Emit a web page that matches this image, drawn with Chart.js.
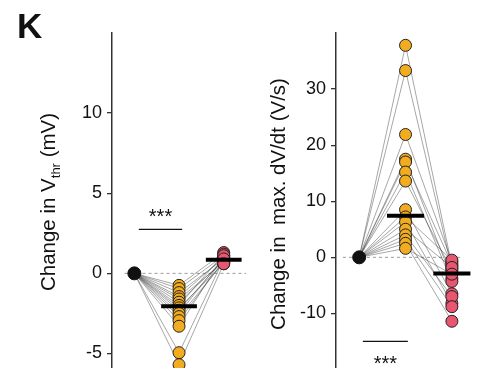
<!DOCTYPE html>
<html>
<head>
<meta charset="utf-8">
<script src="https://cdn.jsdelivr.net/npm/chart.js@4.4.1/dist/chart.umd.min.js"></script>
<style>
  html, body { margin: 0; padding: 0; background: #fff; }
  #wrap { position: relative; width: 477px; height: 368px; overflow: hidden; }
  canvas { position: absolute; top: 0; }
  #vthr { left: 0; }
  #dvdt { left: 240px; }
</style>
</head>
<body>
<div id="wrap">
  <canvas id="vthr" width="250" height="377"></canvas>
  <canvas id="dvdt" width="237" height="377"></canvas>
</div>
<script>
// x positions of the three conditions (baseline, drug, washout)
const conditions = [1, 2, 3];

// panel 1: change in V_thr (mV), one entry per cell
const vthrDrug = [-0.75, -0.95, -1.2, -1.45, -1.6, -1.8, -2.0, -2.15, -2.3, -2.5, -2.7, -2.95, -3.3, -4.95, -5.7];
const vthrWash = [1.3, 1.1, 0.9, 1.0, 0.7, 0.8, 1.2, 0.6, 0.9, 1.0, 0.7, 0.8, 1.1, 0.9, 0.6];
const vthrMeans = [-2.05, 0.85];
const vthrTicks = [-5, 0, 5, 10];

// panel 2: change in max dV/dt (V/s)
const dvdtDrug = [37.8, 33.3, 21.9, 17.5, 17.0, 15.2, 13.6, 8.5, 7.2, 6.3, 5.0, 4.0, 3.2, 2.5, 1.6];
const dvdtWash = [-1.5, -2.0, -0.8, -3.8, -1.2, -4.3, -2.4, -6.5, -0.5, -8.2, -1.8, -7.0, -8.8, -11.4, -3.0];
const dvdtMeans = [7.4, -2.9];
const dvdtTicks = [-10, 0, 10, 20, 30];

// significance bars: [x from, x to, y]
const vthrSigBar = [1.1, 2.07, 2.75];
const dvdtSigBar = [1.08, 2.05, -15];

const YELLOW = '#f1ac1f';
const RED = '#e8566f';
const FONT = "'Liberation Sans', Arial, Helvetica, sans-serif";

Chart.defaults.font.family = FONT;
Chart.defaults.color = '#111';

const annot = {
  id: 'annot',
  afterDraw(chart, args, o) {
    const { ctx, scales: { x, y } } = chart;
    ctx.save();
    ctx.fillStyle = '#111';

    // rotated y title, with optional subscript part
    ctx.translate(o.titleX, o.titleY);
    ctx.rotate(-Math.PI / 2);
    ctx.textBaseline = 'alphabetic';
    ctx.textAlign = 'left';
    const big = '20.5px ' + FONT;
    const small = '13px ' + FONT;
    let total = 0;
    for (const p of o.title) {
      ctx.font = p.sub ? small : big;
      total += ctx.measureText(p.text).width;
    }
    let u = -total / 2;
    for (const p of o.title) {
      ctx.font = p.sub ? small : big;
      ctx.fillText(p.text, u, p.sub ? 5 : 0);
      u += ctx.measureText(p.text).width;
    }
    ctx.setTransform(1, 0, 0, 1, 0, 0);

    // significance stars
    const [x0, x1, yv] = o.sig;
    ctx.font = '20px ' + FONT;
    ctx.textAlign = 'center';
    ctx.fillText('***', (x.getPixelForValue(x0) + x.getPixelForValue(x1)) / 2,
      y.getPixelForValue(yv) + o.starOffset);

    if (o.letter) {
      ctx.font = 'bold 35px ' + FONT;
      ctx.textAlign = 'left';
      ctx.fillText(o.letter, 17, 38);
    }
    ctx.restore();
  }
};

function makePanel(id, drug, wash, means, ticks, sig, yMin, yMax, xMax, axisWidth, annotOpts) {
  const datasets = [];

  // dashed zero reference
  datasets.push({
    data: [{ x: annotOpts.zeroFrom, y: 0 }, { x: annotOpts.zeroTo, y: 0 }],
    showLine: true, borderColor: '#9a9a9a', borderWidth: 1, borderDash: [3, 3],
    pointRadius: 0, order: 20
  });

  // one thin line per cell
  drug.forEach((d, i) => {
    datasets.push({
      data: [{ x: conditions[0], y: 0 }, { x: conditions[1], y: d }, { x: conditions[2], y: wash[i] }],
      showLine: true, borderColor: 'rgba(60,60,60,0.5)', borderWidth: 0.9,
      pointRadius: 0, order: 10
    });
  });

  datasets.push({
    data: [{ x: conditions[0], y: 0 }],
    pointRadius: 6.5, backgroundColor: '#111', borderColor: '#111', order: 3
  });
  datasets.push({
    data: drug.map(v => ({ x: conditions[1], y: v })),
    pointRadius: 6, backgroundColor: YELLOW, borderColor: '#222', borderWidth: 1, order: 2
  });
  datasets.push({
    data: wash.map(v => ({ x: conditions[2], y: v })),
    pointRadius: 6, backgroundColor: RED, borderColor: '#222', borderWidth: 1, order: 2
  });

  // mean bars
  means.forEach((m, i) => {
    const c = conditions[i + 1];
    datasets.push({
      data: [{ x: c - 0.4, y: m }, { x: c + 0.4, y: m }],
      showLine: true, borderColor: '#000', borderWidth: 4, borderCapStyle: 'butt',
      pointRadius: 0, order: 0
    });
  });

  // significance bar
  datasets.push({
    data: [{ x: sig[0], y: sig[2] }, { x: sig[1], y: sig[2] }],
    showLine: true, borderColor: '#111', borderWidth: 1.3, pointRadius: 0, order: 0
  });

  return new Chart(document.getElementById(id), {
    type: 'scatter',
    data: { datasets },
    options: {
      responsive: false,
      animation: false,
      clip: false,
      layout: { padding: { top: 33, right: 0, bottom: 0, left: 0 } },
      plugins: {
        legend: { display: false },
        tooltip: { enabled: false },
        annot: annotOpts
      },
      scales: {
        x: { type: 'linear', min: 0.5, max: xMax, display: false },
        y: {
          min: yMin, max: yMax,
          afterBuildTicks: (s) => { s.ticks = ticks.map(v => ({ value: v })); },
          afterFit: (s) => { s.width = axisWidth; s.paddingTop = 0; s.paddingBottom = 0; },
          grid: { drawOnChartArea: false, drawTicks: true, tickLength: 5, color: '#333', lineWidth: 1.3 },
          border: { display: true, color: '#333', width: 1.5 },
          ticks: { font: { size: 18 }, color: '#111', padding: 5 }
        }
      }
    },
    plugins: [annot]
  });
}

makePanel('vthr', vthrDrug, vthrWash, vthrMeans, vthrTicks, vthrSigBar, -6, 15, 3.42, 112, {
  title: [{ text: 'Change in V' }, { text: 'thr', sub: true }, { text: ' (mV)' }],
  titleX: 55, titleY: 202,
  sig: vthrSigBar, starOffset: -6.5,
  zeroFrom: 0.78, zeroTo: 3.5,
  letter: 'K'
});

makePanel('dvdt', dvdtDrug, dvdtWash, dvdtMeans, dvdtTicks, dvdtSigBar, -20, 40, 3.38, 96, {
  title: [{ text: 'Change in  max. dV/dt (V/s)' }],
  titleX: 45, titleY: 204,
  sig: dvdtSigBar, starOffset: 28.5,
  zeroFrom: 0.65, zeroTo: 3.2
});
</script>
</body>
</html>
